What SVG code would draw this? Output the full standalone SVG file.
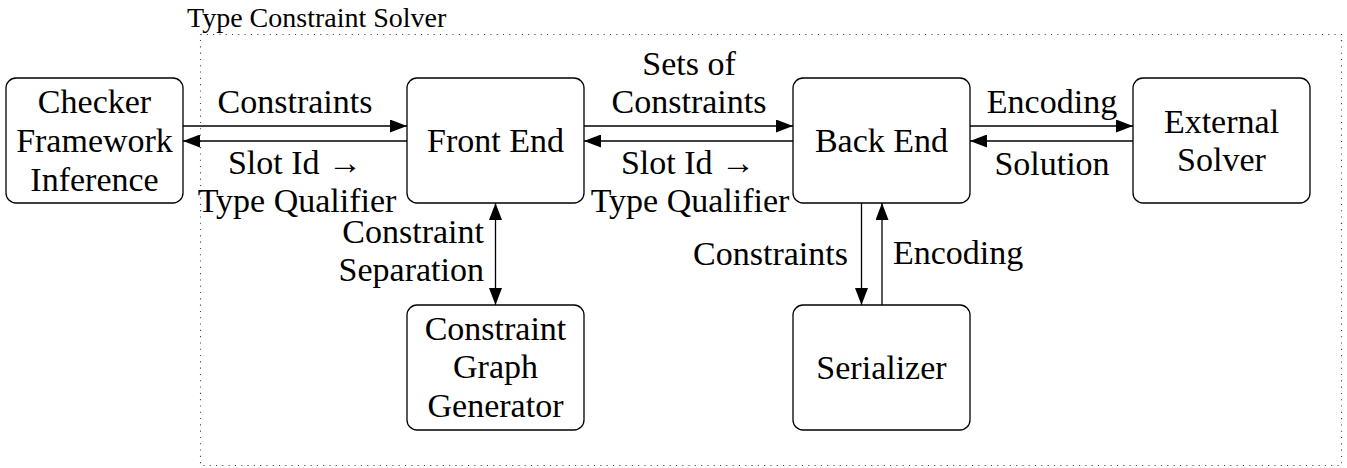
<svg xmlns="http://www.w3.org/2000/svg" width="1347" height="468" viewBox="0 0 1347 468">
  <style>
    text { font-family: 'Liberation Serif', 'Times New Roman', serif; font-size: 34px; fill: #000; }
    .title { font-size: 28px; }
    .mid { text-anchor: middle; }
    .end { text-anchor: end; }
    .box { fill: #fff; stroke: #000; stroke-width: 1.3; }
    .edge { fill: none; stroke: #000; stroke-width: 1.3; }
    .frame { fill: none; stroke: #444; stroke-width: 1.1; stroke-dasharray: 1.1 5.2; }
  </style>
  <defs>
    <marker id="arrow" viewBox="0 0 17 13" refX="17" refY="6.5" markerWidth="17" markerHeight="13" markerUnits="userSpaceOnUse" orient="auto-start-reverse">
      <path d="M0,0 L17,6.5 L0,13 Z" fill="#000"/>
    </marker>
  </defs>

  <!-- solver boundary -->
  <g id="solver-frame">
    <rect class="frame" x="200.5" y="34.5" width="1141" height="431"/>
    <text class="title" x="187" y="27">Type Constraint Solver</text>
  </g>

  <!-- connectors -->
  <g id="connectors">
    <line class="edge" x1="183" y1="126" x2="407" y2="126" marker-end="url(#arrow)"/>
    <line class="edge" x1="407" y1="141" x2="183" y2="141" marker-end="url(#arrow)"/>
    <line class="edge" x1="584" y1="126" x2="793" y2="126" marker-end="url(#arrow)"/>
    <line class="edge" x1="793" y1="141" x2="584" y2="141" marker-end="url(#arrow)"/>
    <line class="edge" x1="970" y1="126" x2="1133" y2="126" marker-end="url(#arrow)"/>
    <line class="edge" x1="1133" y1="141" x2="970" y2="141" marker-end="url(#arrow)"/>
    <line class="edge" x1="495.5" y1="203" x2="495.5" y2="305" marker-start="url(#arrow)" marker-end="url(#arrow)"/>
    <line class="edge" x1="861.5" y1="203" x2="861.5" y2="305" marker-end="url(#arrow)"/>
    <line class="edge" x1="882" y1="305" x2="882" y2="203" marker-end="url(#arrow)"/>

    <text class="mid" x="295" y="113">Constraints</text>
    <text class="mid" x="295" y="174">Slot Id →</text>
    <text class="mid" x="297" y="212">Type Qualifier</text>

    <text class="mid" x="689" y="75">Sets of</text>
    <text class="mid" x="689" y="113">Constraints</text>
    <text class="mid" x="688" y="174">Slot Id →</text>
    <text class="mid" x="690" y="212">Type Qualifier</text>

    <text class="mid" x="1052" y="113">Encoding</text>
    <text class="mid" x="1052" y="175">Solution</text>

    <text class="end" x="484" y="243">Constraint</text>
    <text class="end" x="484" y="281">Separation</text>

    <text class="end" x="848" y="265">Constraints</text>
    <text x="893" y="264">Encoding</text>
  </g>

  <!-- nodes -->
  <g id="checker-framework-inference">
    <rect class="box" x="6" y="78" width="177" height="125" rx="10"/>
    <text class="mid" x="94.5" y="113">Checker</text>
    <text class="mid" x="94.5" y="152">Framework</text>
    <text class="mid" x="94.5" y="190.5">Inference</text>
  </g>
  <g id="front-end">
    <rect class="box" x="407" y="78" width="177" height="125" rx="10"/>
    <text class="mid" x="495.5" y="152">Front End</text>
  </g>
  <g id="back-end">
    <rect class="box" x="793" y="78" width="177" height="125" rx="10"/>
    <text class="mid" x="881.5" y="152">Back End</text>
  </g>
  <g id="external-solver">
    <rect class="box" x="1133" y="78" width="177" height="125" rx="10"/>
    <text class="mid" x="1221.5" y="133">External</text>
    <text class="mid" x="1221.5" y="171">Solver</text>
  </g>
  <g id="constraint-graph-generator">
    <rect class="box" x="407" y="305" width="177" height="125" rx="10"/>
    <text class="mid" x="495.5" y="340">Constraint</text>
    <text class="mid" x="495.5" y="378">Graph</text>
    <text class="mid" x="495.5" y="417">Generator</text>
  </g>
  <g id="serializer">
    <rect class="box" x="793" y="305" width="177" height="125" rx="10"/>
    <text class="mid" x="881.5" y="379">Serializer</text>
  </g>
</svg>
